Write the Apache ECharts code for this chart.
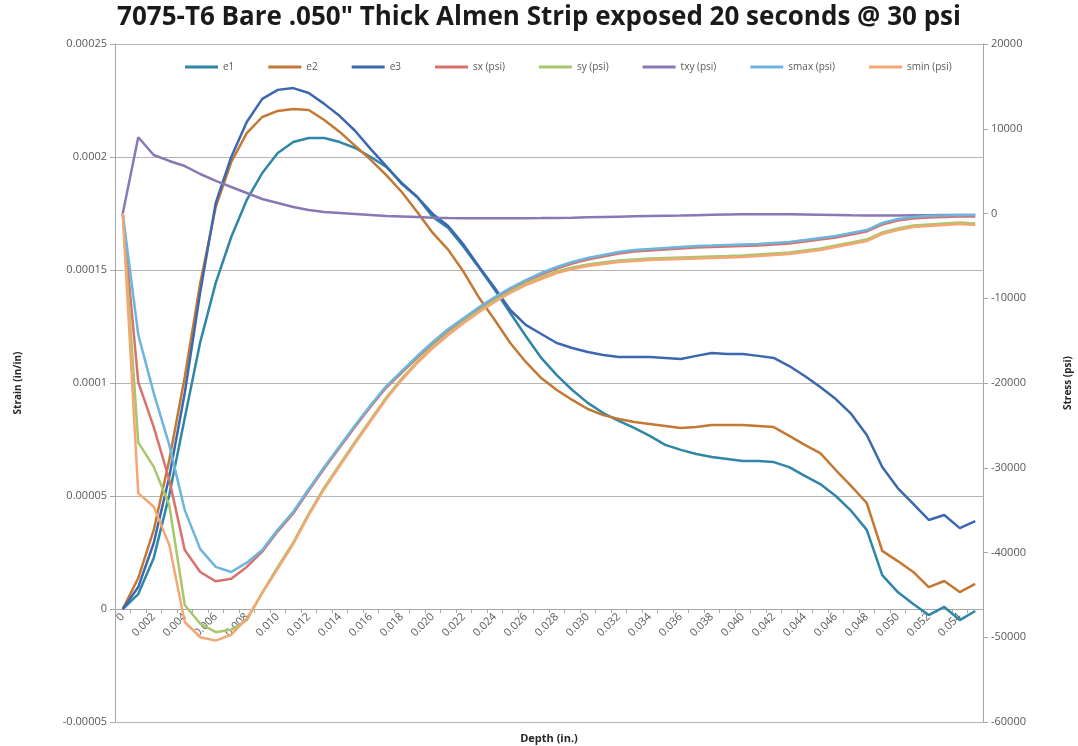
<!DOCTYPE html>
<html>
<head>
<meta charset="utf-8">
<script src="https://cdn.jsdelivr.net/npm/echarts@6/dist/echarts.min.js"></script>
<style>html,body{margin:0;padding:0;background:#fff}#c{width:1078px;height:746px}</style>
</head>
<body>
<div id="c"></div>
<script>
const depth = [0,0.001,0.002,0.003,0.004,0.005,0.006,0.007,0.008,0.009,0.010,0.011,0.012,0.013,0.014,0.015,0.016,0.017,0.018,0.019,0.020,0.021,0.022,0.023,0.024,0.025,0.026,0.027,0.028,0.029,0.030,0.031,0.032,0.033,0.034,0.035,0.036,0.037,0.038,0.039,0.040,0.041,0.042,0.043,0.044,0.045,0.046,0.047,0.048,0.049,0.050,0.051,0.052,0.053,0.054,0.055];

const e1 = [0,6.6e-6,2.26e-5,5.04e-5,8.45e-5,1.181e-4,1.443e-4,1.646e-4,1.810e-4,1.929e-4,2.018e-4,2.066e-4,2.084e-4,2.084e-4,2.066e-4,2.040e-4,2.000e-4,1.956e-4,1.885e-4,1.823e-4,1.735e-4,1.686e-4,1.602e-4,1.509e-4,1.412e-4,1.310e-4,1.208e-4,1.111e-4,1.035e-4,9.69e-5,9.12e-5,8.67e-5,8.32e-5,8.01e-5,7.66e-5,7.26e-5,7.04e-5,6.86e-5,6.73e-5,6.64e-5,6.55e-5,6.55e-5,6.50e-5,6.28e-5,5.89e-5,5.53e-5,5.00e-5,4.34e-5,3.50e-5,1.50e-5,7.5e-6,2.2e-6,-2.7e-6,9e-7,-4.9e-6,-9e-7];
const e2 = [0,1.37e-5,3.50e-5,6.59e-5,1.027e-4,1.443e-4,1.779e-4,1.978e-4,2.106e-4,2.177e-4,2.204e-4,2.212e-4,2.208e-4,2.164e-4,2.111e-4,2.049e-4,1.987e-4,1.920e-4,1.845e-4,1.757e-4,1.664e-4,1.589e-4,1.491e-4,1.376e-4,1.279e-4,1.177e-4,1.093e-4,1.022e-4,9.69e-5,9.25e-5,8.85e-5,8.58e-5,8.41e-5,8.27e-5,8.19e-5,8.10e-5,8.01e-5,8.05e-5,8.14e-5,8.14e-5,8.14e-5,8.10e-5,8.05e-5,7.66e-5,7.26e-5,6.90e-5,6.15e-5,5.44e-5,4.69e-5,2.57e-5,2.12e-5,1.64e-5,9.7e-6,1.24e-5,7.5e-6,1.11e-5];
const e3 = [0,9.7e-6,2.92e-5,5.84e-5,9.56e-5,1.403e-4,1.797e-4,2.000e-4,2.155e-4,2.257e-4,2.297e-4,2.305e-4,2.283e-4,2.235e-4,2.181e-4,2.115e-4,2.035e-4,1.960e-4,1.881e-4,1.823e-4,1.748e-4,1.695e-4,1.611e-4,1.513e-4,1.420e-4,1.323e-4,1.257e-4,1.217e-4,1.177e-4,1.155e-4,1.137e-4,1.124e-4,1.115e-4,1.115e-4,1.115e-4,1.111e-4,1.106e-4,1.120e-4,1.133e-4,1.128e-4,1.128e-4,1.120e-4,1.111e-4,1.075e-4,1.031e-4,9.82e-5,9.29e-5,8.63e-5,7.70e-5,6.28e-5,5.35e-5,4.65e-5,3.94e-5,4.16e-5,3.58e-5,3.89e-5];

const sx = [0,-19900,-25200,-31400,-39700,-42300,-43400,-43100,-41700,-39900,-37500,-35400,-32690,-30090,-27610,-25130,-22770,-20530,-18760,-16990,-15340,-13810,-12510,-11210,-10030,-8970,-8020,-7200,-6490,-5900,-5430,-5070,-4720,-4480,-4370,-4250,-4130,-4010,-3950,-3890,-3840,-3780,-3660,-3540,-3300,-3070,-2830,-2480,-2120,-1300,-830,-590,-470,-410,-350,-350];
const sy = [0,-27000,-29900,-34400,-46200,-48400,-49400,-49100,-48000,-44700,-41700,-38820,-35400,-32330,-29620,-26900,-24310,-21710,-19470,-17460,-15690,-14160,-12740,-11450,-10270,-9200,-8260,-7550,-6840,-6370,-6020,-5780,-5550,-5430,-5310,-5250,-5190,-5130,-5070,-5020,-4960,-4840,-4720,-4600,-4370,-4130,-3780,-3420,-3070,-2240,-1770,-1420,-1300,-1180,-1060,-1180];
const txy = [0,9000,6900,6200,5600,4660,3840,3130,2420,1710,1240,770,410,180,60,-60,-180,-300,-350,-410,-500,-530,-550,-560,-560,-560,-550,-540,-520,-490,-450,-410,-370,-330,-300,-270,-240,-200,-160,-120,-100,-90,-80,-90,-110,-140,-180,-220,-250,-250,-230,-210,-200,-190,-180,-180];
const smax = [0,-14300,-21200,-27300,-35000,-39600,-41700,-42300,-41200,-39700,-37300,-35200,-32510,-29910,-27440,-24960,-22600,-20360,-18590,-16820,-15160,-13630,-12330,-11030,-9850,-8790,-7850,-7020,-6310,-5720,-5250,-4900,-4540,-4310,-4190,-4070,-3950,-3830,-3780,-3720,-3660,-3600,-3480,-3360,-3130,-2890,-2660,-2300,-1950,-1120,-650,-410,-300,-240,-180,-180];
const smin = [0,-33000,-34600,-39100,-48200,-50000,-50400,-49700,-47800,-44800,-41900,-39000,-35580,-32510,-29800,-27080,-24490,-21890,-19650,-17640,-15870,-14340,-12920,-11620,-10440,-9380,-8440,-7730,-7020,-6550,-6200,-5960,-5720,-5610,-5490,-5430,-5370,-5310,-5250,-5190,-5130,-5020,-4900,-4780,-4540,-4310,-3950,-3600,-3250,-2420,-1950,-1590,-1480,-1360,-1240,-1360];

const seriesNames = ['e1','e2','e3','sx (psi)','sy (psi)','txy (psi)','smax (psi)','smin (psi)'];
const seriesData = [e1,e2,e3,sx,sy,txy,smax,smin];
const seriesAxis = [0,0,0,1,1,1,1,1];
const colors = ['#2F86A6','#C47833','#3B68AE','#D9726C','#A8C66C','#8A78B6','#6DB5DC','#F5A673'];

const chart = echarts.init(document.getElementById('c'), null, {renderer:'canvas'});
const labelColor = '#595959';
chart.setOption({
  animation:false,
  backgroundColor:'#ffffff',
  color:colors,
  title:{
    text:'7075-T6 Bare .050" Thick Almen Strip exposed 20 seconds @ 30 psi',
    left:'center', top:0,
    textStyle:{fontFamily:'Open Sans', fontSize:26, fontWeight:'bold', color:'#1a1a1a'}
  },
  legend:{
    top:57, left:180,
    icon:'rect', itemWidth:33, itemHeight:3, itemGap:34,
    selectedMode:false,
    textStyle:{fontFamily:'Open Sans', fontSize:10, color:labelColor},
    data:seriesNames
  },
  grid:{left:115, right:95, top:44, bottom:24, containLabel:false, outerBoundsMode:'none'},
  xAxis:{
    type:'category',
    data:depth,
    boundaryGap:true,
    position:'bottom',
    offset:-113,
    name:'Depth (in.)',
    nameLocation:'middle',
    nameGap:124,
    nameTextStyle:{fontFamily:'Open Sans', fontSize:11, fontWeight:'bold', color:'#262626'},
    axisLine:{onZero:false, lineStyle:{color:'#A6A6A6', width:1}},
    axisTick:{show:true, interval:0, length:4, lineStyle:{color:'#A6A6A6'}},
    axisLabel:{
      interval:1, rotate:45, margin:6,
      fontFamily:'Open Sans', fontSize:11, color:labelColor,
      formatter:function(v){ const n=Number(v); return n===0 ? '0' : n.toFixed(3); }
    },
    splitLine:{show:false}
  },
  yAxis:[
    {
      type:'value', min:-0.00005, max:0.00025, interval:0.00005,
      name:'Strain (in/in)', nameLocation:'middle', nameGap:92, nameRotate:90,
      nameTextStyle:{fontFamily:'Open Sans', fontSize:10, fontWeight:'bold', color:'#262626'},
      axisLine:{show:true, lineStyle:{color:'#A6A6A6'}},
      axisTick:{show:true, length:5, lineStyle:{color:'#A6A6A6'}},
      axisLabel:{fontFamily:'Open Sans', fontSize:11, color:labelColor, margin:8,
        formatter:function(v){ return String(Math.round(v*1e6)/1e6); }},
      splitLine:{show:true, lineStyle:{color:'#B5B5B5', width:1}}
    },
    {
      type:'value', min:-60000, max:20000, interval:10000, position:'right',
      name:'Stress (psi)', nameLocation:'middle', nameGap:80, nameRotate:90,
      nameTextStyle:{fontFamily:'Open Sans', fontSize:10, fontWeight:'bold', color:'#262626'},
      axisLine:{show:true, lineStyle:{color:'#A6A6A6'}},
      axisTick:{show:true, length:5, lineStyle:{color:'#A6A6A6'}},
      axisLabel:{fontFamily:'Open Sans', fontSize:11, color:labelColor, margin:8,
        formatter:function(v){ return String(v); }},
      splitLine:{show:false}
    }
  ],
  series:seriesNames.map(function(n,i){
    return {
      name:n, type:'line', yAxisIndex:seriesAxis[i], data:seriesData[i],
      symbol:'none', smooth:false,
      lineStyle:{width:2.5, color:colors[i]},
      itemStyle:{color:colors[i]},
      z:2+i
    };
  })
});
</script>
</body>
</html>
